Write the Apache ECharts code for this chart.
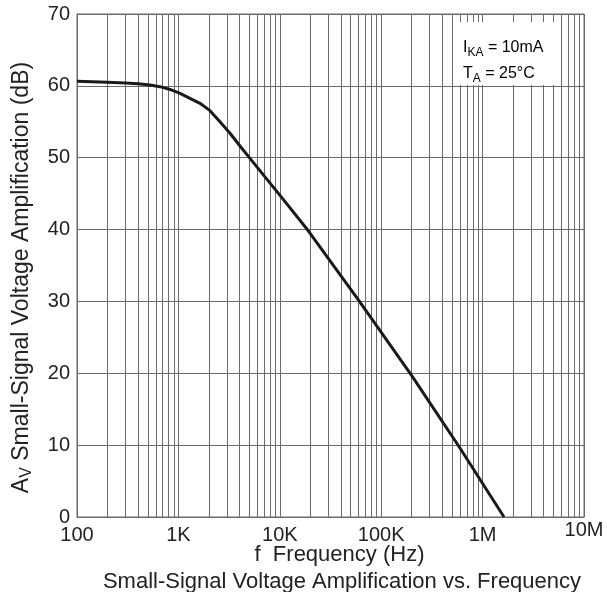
<!DOCTYPE html>
<html>
<head>
<meta charset="utf-8">
<script src="https://cdn.jsdelivr.net/npm/echarts@6/dist/echarts.min.js"></script>
<style>
  html, body { margin: 0; padding: 0; background: #fff; }
  #chart { width: 607px; height: 592px; }
</style>
</head>
<body>
<div id="chart"></div>
<script>
// curve: frequency (Hz) -> gain (dB)
const freqs = [100, 200, 300, 400, 525, 658, 827, 1037, 1300, 1633, 2050, 2570, 3228, 4048, 5080, 10280, 19100, 59800, 200000, 589000, 1626000]
const gains = [60.65, 60.5, 60.4, 60.3, 60.12, 59.89, 59.5, 58.96, 58.26, 57.57, 56.55, 55.02, 53.41, 51.63, 49.9, 44.58, 39.83, 30.17, 19.68, 9.74, 0]

// minor log grid lines (2..9 of each decade)
const decades = [100, 1000, 10000, 100000, 1000000]
const minorSteps = [2, 3, 4, 5, 6, 7, 8, 9]
const minorFreqs = decades.flatMap(d => minorSteps.map(m => d * m))

const tickLabels = { 100: '100', 1000: '1K', 10000: '10K', 100000: '100K', 1000000: '1M', 10000000: '{up|10M}' }

const gridColor = '#6a6a6a'
const textColor = '#222'
const font = 'Liberation Sans, Arial, sans-serif'

const chart = echarts.init(document.getElementById('chart'))

chart.setOption({
  animation: false,
  textStyle: { fontFamily: font },
  grid: {
    left: 77,
    right: 23,
    top: 14,
    bottom: 75,
    show: true,
    borderColor: gridColor,
    borderWidth: 1
  },
  title: {
    text: 'Small-Signal Voltage Amplification vs. Frequency',
    left: 337,
    textAlign: 'center',
    top: 566,
    textStyle: { fontFamily: font, fontSize: 22, fontWeight: 'normal', color: textColor }
  },
  xAxis: {
    type: 'log',
    logBase: 10,
    min: 100,
    max: 10000000,
    name: 'f  Frequency (Hz)',
    nameLocation: 'middle',
    nameGap: 27,
    nameMoveOverlap: false,
    nameTextStyle: { fontFamily: font, fontSize: 22, color: textColor, padding: [0, 0, 0, 18] },
    axisLine: { lineStyle: { color: gridColor, width: 1 } },
    axisTick: { show: false },
    axisLabel: {
      fontSize: 20,
      color: textColor,
      margin: 8,
      formatter: v => tickLabels[Math.round(v)] || '',
      rich: { up: { fontSize: 20, color: textColor, lineHeight: 10 } }
    },
    splitLine: { show: true, lineStyle: { color: gridColor, width: 1 } }
  },
  yAxis: {
    type: 'value',
    min: 0,
    max: 70,
    interval: 10,
    name: '{n|A}{s|V}{n| Small-Signal Voltage Amplification (dB)}',
    nameLocation: 'middle',
    nameGap: 41,
    nameRotate: 90,
    nameTextStyle: {
      color: textColor,
      padding: [0, 24, 0, 0],
      rich: {
        n: { fontFamily: font, fontSize: 23, color: textColor, lineHeight: 28 },
        s: { fontFamily: font, fontSize: 16, color: textColor, lineHeight: 28, padding: [10, 0, 0, 0] }
      }
    },
    axisLine: { show: true, lineStyle: { color: gridColor, width: 1 } },
    axisTick: { show: false },
    axisLabel: { fontSize: 20, color: textColor, margin: 7 },
    splitLine: { show: true, lineStyle: { color: gridColor, width: 1 } }
  },
  graphic: [
    {
      type: 'rect',
      z: 100,
      shape: { x: 453, y: 22, width: 103, height: 63 },
      style: { fill: '#fff' }
    },
    {
      type: 'text',
      z: 101,
      x: 463,
      y: 35,
      style: {
        text: '{n|I}{s|KA}{n| = 10mA}\n{n|T}{s|A}{n| = 25°C}',
        rich: {
          n: { fontFamily: font, fontSize: 16, color: textColor, lineHeight: 26 },
          s: { fontFamily: font, fontSize: 12, color: textColor, lineHeight: 26, padding: [9, 0, 0, 0] }
        }
      }
    }
  ],
  series: [
    {
      type: 'line',
      data: [],
      silent: true,
      z: 1,
      markLine: {
        silent: true,
        symbol: ['none', 'none'],
        label: { show: false },
        lineStyle: { color: gridColor, width: 1, type: 'solid' },
        data: minorFreqs.map(f => ({ xAxis: f }))
      }
    },
    {
      type: 'line',
      data: freqs.map((f, i) => [f, gains[i]]),
      smooth: false,
      symbol: 'none',
      z: 5,
      lineStyle: { color: '#1a1a1a', width: 3, join: 'round' }
    }
  ]
})
</script>
</body>
</html>
